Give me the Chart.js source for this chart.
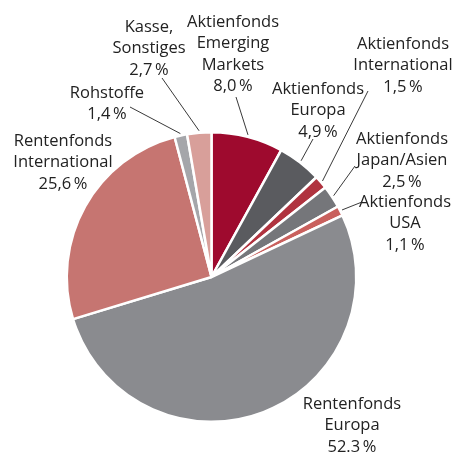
<!DOCTYPE html>
<html>
<head>
<meta charset="utf-8">
<script src="https://cdn.jsdelivr.net/npm/chart.js@4"></script>
<style>
  html, body { margin: 0; padding: 0; background: #ffffff; }
  #wrap { width: 456px; height: 452px; }
</style>
</head>
<body>
<div id="wrap"><canvas id="allocationChart" width="456" height="452"></canvas></div>
<script>
// Slices clockwise from 12 o'clock
const categories = [
    ['Aktienfonds', 'Emerging', 'Markets'],
    ['Aktienfonds', 'Europa'],
    ['Aktienfonds', 'International'],
    ['Aktienfonds', 'Japan/Asien'],
    ['Aktienfonds', 'USA'],
    ['Rentenfonds', 'Europa'],
    ['Rentenfonds', 'International'],
    ['Rohstoffe'],
    ['Kasse,', 'Sonstiges']
];
const shares = [8.0, 4.9, 1.5, 2.5, 1.1, 52.3, 25.6, 1.4, 2.7];
const shareLabels = ['8,0\u2009%', '4,9\u2009%', '1,5\u2009%', '2,5\u2009%', '1,1\u2009%', '52.3\u2009%', '25,6\u2009%', '1,4\u2009%', '2,7\u2009%'];
const sliceColors = ['#9e0a2e', '#5a5b5f', '#b0333f', '#75767a', '#c9605d', '#8a8b8f', '#c67571', '#a5a6aa', '#d89f9a'];

// Label block placement (centre x, first-line y) and leader line start; null = no leader
const labelLayout = [
    { x: 233, y: 22, lead: [236, 97] },
    { x: 318, y: 89, lead: [313, 139] },
    { x: 403, y: 44, lead: [368, 91] },
    { x: 402, y: 139, lead: [355, 166] },
    { x: 405, y: 202, lead: [362, 202] },
    { x: 352, y: 404, lead: null },
    { x: 63, y: 141, lead: null },
    { x: 107, y: 93, lead: [130, 107] },
    { x: 149, y: 27, lead: [162, 78] }
];

const sliceLabels = {
    id: 'sliceLabels',
    afterDraw(chart) {
        const ctx = chart.ctx;
        const arcs = chart.getDatasetMeta(0).data;
        ctx.save();
        ctx.font = '16.5px "Open Sans", sans-serif';
        ctx.fillStyle = '#222222';
        ctx.textAlign = 'center';
        ctx.textBaseline = 'middle';
        const lineH = 21.4;
        categories.forEach((lines, i) => {
            const pos = labelLayout[i];
            const all = lines.concat([shareLabels[i]]);
            all.forEach((t, k) => ctx.fillText(t, pos.x, pos.y + k * lineH));
            if (pos.lead) {
                const a = arcs[i];
                const mid = (a.startAngle + a.endAngle) / 2;
                const r = a.outerRadius + 2;
                ctx.beginPath();
                ctx.strokeStyle = '#222222';
                ctx.lineWidth = 0.9;
                ctx.moveTo(pos.lead[0], pos.lead[1]);
                ctx.lineTo(a.x + Math.cos(mid) * r, a.y + Math.sin(mid) * r);
                ctx.stroke();
            }
        });
        ctx.restore();
    }
};

new Chart(document.getElementById('allocationChart'), {
    type: 'pie',
    data: {
        labels: categories.map(c => c.join(' ')),
        datasets: [{
            data: shares,
            backgroundColor: sliceColors,
            borderColor: '#ffffff',
            borderWidth: 2.5,
            hoverOffset: 0
        }]
    },
    options: {
        responsive: false,
        animation: false,
        layout: {
            padding: { left: 65, right: 98, top: 131, bottom: 29 }
        },
        plugins: {
            legend: { display: false },
            tooltip: { enabled: false }
        }
    },
    plugins: [sliceLabels]
});
</script>
</body>
</html>
